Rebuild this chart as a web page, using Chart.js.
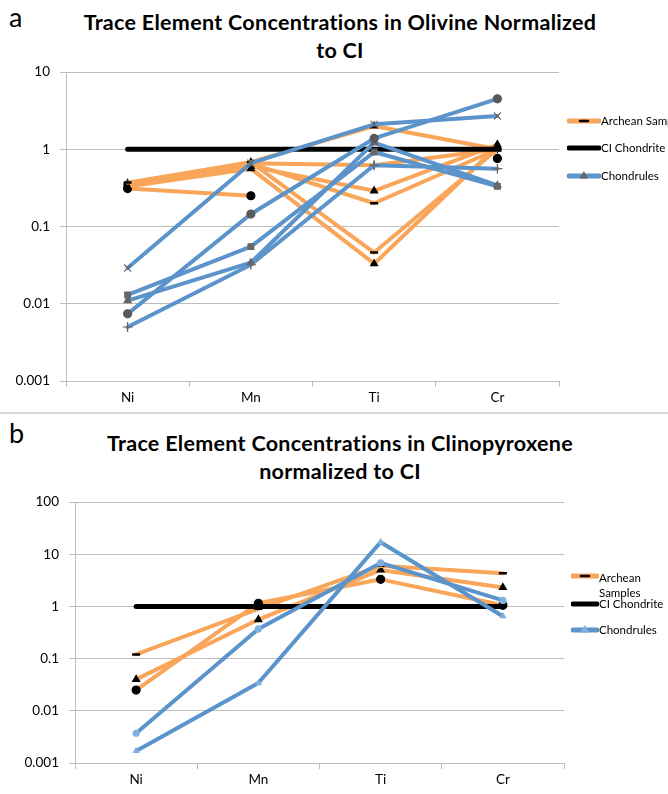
<!DOCTYPE html>
<html>
<head>
<meta charset="utf-8">
<script src="https://cdn.jsdelivr.net/npm/chart.js@4.4.1/dist/chart.umd.min.js"></script>
<style>
body{margin:0;width:668px;height:794px;position:relative;background:#fff;font-family:Lato,sans-serif;overflow:hidden}
canvas.chart{position:absolute;left:0}
.letter{position:absolute;left:9px;font-size:27px;line-height:30px}
.title{position:absolute;left:0;width:680px;text-align:center;font-weight:bold;font-size:21.5px;letter-spacing:0.3px;line-height:28px;color:#000}
.leg{position:absolute;display:flex;align-items:center;font-size:11.5px;white-space:nowrap;color:#000}
.sep{position:absolute;left:0;top:412px;width:668px;height:2px;background:#d9d9d9}
</style>
</head>
<body>
<div class="letter" style="top:2px">a</div>
<div class="title" style="top:8px">Trace Element Concentrations in Olivine Normalized<br>to CI</div>
<canvas id="olivine" class="chart" width="668" height="410" style="top:0"></canvas>
<div class="sep"></div>
<div class="letter" style="top:418px">b</div>
<div class="title" style="top:429px">Trace Element Concentrations in Clinopyroxene<br>normalized to CI</div>
<canvas id="cpx" class="chart" width="668" height="379" style="top:415px"></canvas>

<div id="legA1" class="leg" style="left:567px;top:114px">Archean Samples</div>
<div id="legA2" class="leg" style="left:567px;top:141px">CI Chondrite</div>
<div id="legA3" class="leg" style="left:567px;top:169px">Chondrules</div>
<div id="legB1" class="leg" style="left:571px;top:570px;align-items:flex-start;line-height:15px"><span>Archean<br>Samples</span></div>
<div id="legB2" class="leg" style="left:571px;top:597px">CI Chondrite</div>
<div id="legB3" class="leg" style="left:571px;top:623px">Chondrules</div>

<script>
const categories = ['Ni', 'Mn', 'Ti', 'Cr']
const ciChondrite = [1, 1, 1, 1]

// olivine, normalized to CI
const olArchean1 = [0.37, 0.68, 0.046, 1.0]
const olArchean2 = [0.33, 0.56, 0.033, 1.1]
const olArchean3 = [0.35, 0.65, 0.20, 1.0]
const olArchean4 = [0.34, 0.60, 0.29, 1.15]
const olArchean5 = [0.31, 0.25, null, 0.76]
const olArchean6 = [0.36, 0.68, 2.0, 1.0]
const olArchean7 = [0.35, 0.66, 0.62, 1.0]
const olChondrule1 = [0.029, 0.66, 2.1, 2.7]
const olChondrule2 = [0.0074, 0.145, 1.38, 4.5]
const olChondrule3 = [0.013, 0.055, 0.92, 0.33]
const olChondrule4 = [0.011, 0.034, 1.22, 0.34]
const olChondrule5 = [0.005, 0.032, 0.62, 0.56]

// clinopyroxene, normalized to CI
const cpxArchean1 = [0.12, 0.9, 6.0, 4.3]
const cpxArchean2 = [0.04, 0.56, 5.0, 2.3]
const cpxArchean3 = [0.025, 1.15, 3.3, 1.05]
const cpxChondrule1 = [0.0037, 0.37, 6.8, 1.3]
const cpxChondrule2 = [0.0017, 0.034, 17, 0.65]

const orange = '#f9a65a'
const blue = '#5b93cb'
const gridColor = '#bdbdbd'

function serie(data, color, width, style, markColor, order, radius) {
    return {
        data: data,
        borderColor: color,
        borderWidth: width,
        borderJoinStyle: 'round',
        borderCapStyle: 'round',
        pointStyle: style,
        pointRadius: style ? radius : 0,
        pointBorderColor: markColor,
        pointBackgroundColor: markColor,
        pointBorderWidth: style == 'line' ? 2.5 : 1.2,
        order: order,
        tension: 0
    }
}

function powerLabel(v) {
    const l = Math.log10(v)
    if (Math.abs(l - Math.round(l)) > 1e-6) return null
    return String(Number(v.toPrecision(1)))
}

function makeChart(id, datasets, yMax, padding) {
    return new Chart(document.getElementById(id), {
        type: 'line',
        data: { labels: categories, datasets: datasets },
        options: {
            responsive: false,
            animation: false,
            layout: { padding: padding },
            plugins: { legend: { display: false }, title: { display: false }, tooltip: { enabled: false } },
            scales: {
                x: {
                    offset: true,
                    grid: { offset: true, drawOnChartArea: false, drawTicks: true, tickLength: 6, color: gridColor },
                    border: { color: gridColor },
                    ticks: { color: '#000', font: { family: 'Lato', size: 13.5 }, padding: 3 },
                    afterFit: s => { s.height = 28 }
                },
                y: {
                    type: 'logarithmic',
                    min: 0.001,
                    max: yMax,
                    grid: { color: gridColor, tickLength: 6 },
                    border: { color: gridColor },
                    ticks: { color: '#000', font: { family: 'Lato', size: 13.5 }, padding: 10, callback: powerLabel, autoSkip: false },
                    afterFit: s => { s.width = 50 }
                }
            }
        }
    })
}

makeChart('olivine', [
    serie(olArchean1, orange, 4, 'line', '#000', 2, 4),
    serie(olArchean2, orange, 4, 'triangle', '#000', 2, 4),
    serie(olArchean3, orange, 4, 'line', '#000', 2, 4),
    serie(olArchean4, orange, 4, 'triangle', '#000', 2, 4),
    serie(olArchean5, orange, 4, 'circle', '#000', 2, 4),
    serie(olArchean6, orange, 4, 'triangle', '#000', 2, 4),
    serie(olArchean7, orange, 4, 'cross', '#000', 2, 4),
    serie(ciChondrite, '#000', 5, null, '#000', 1, 0),
    serie(olChondrule1, blue, 4, 'crossRot', '#666', 0, 5),
    serie(olChondrule2, blue, 4, 'circle', '#595959', 0, 4),
    serie(olChondrule3, blue, 4, 'rect', '#666', 0, 4),
    serie(olChondrule4, blue, 4, 'triangle', '#666', 0, 4),
    serie(olChondrule5, blue, 4, 'cross', '#666', 0, 5)
], 10, { left: 16, right: 109, top: 72, bottom: 1 })

makeChart('cpx', [
    serie(cpxArchean1, orange, 4, 'line', '#000', 2, 4),
    serie(cpxArchean2, orange, 4, 'triangle', '#000', 2, 4),
    serie(cpxArchean3, orange, 4, 'circle', '#000', 2, 4),
    serie(ciChondrite, '#000', 5, null, '#000', 1, 0),
    serie(cpxChondrule1, blue, 4, 'circle', '#7fb0e0', 0, 3),
    serie(cpxChondrule2, blue, 4, 'triangle', '#7fb0e0', 0, 3)
], 100, { left: 25, right: 104, top: 87, bottom: 3 })

// legend symbols: a short thick line with the marker on it
function legendSymbol(color, width, style, markColor, len) {
    const c = document.createElement('canvas')
    c.width = len
    c.height = 12
    const g = c.getContext('2d')
    g.strokeStyle = color
    g.lineWidth = width
    g.lineCap = 'round'
    g.beginPath()
    g.moveTo(2, 6)
    g.lineTo(len - 2, 6)
    g.stroke()
    if (style) {
        g.strokeStyle = markColor
        g.fillStyle = markColor
        g.lineWidth = style == 'line' ? 2.5 : 1
        Chart.helpers.drawPoint(g, { pointStyle: style, radius: 4, borderWidth: g.lineWidth, rotation: 0 }, len / 2, 6)
    }
    return c
}

function addSymbol(id, sym) {
    const el = document.getElementById(id)
    el.insertBefore(sym, el.firstChild)
}

addSymbol('legA1', legendSymbol(orange, 5, 'line', '#000', 34))
addSymbol('legA2', legendSymbol('#000', 5, null, '#000', 34))
addSymbol('legA3', legendSymbol(blue, 5, 'triangle', '#666', 34))
addSymbol('legB1', legendSymbol(orange, 5, 'line', '#000', 28))
addSymbol('legB2', legendSymbol('#000', 5, null, '#000', 28))
addSymbol('legB3', legendSymbol(blue, 5, 'triangle', '#7fb0e0', 28))
</script>
</body>
</html>
